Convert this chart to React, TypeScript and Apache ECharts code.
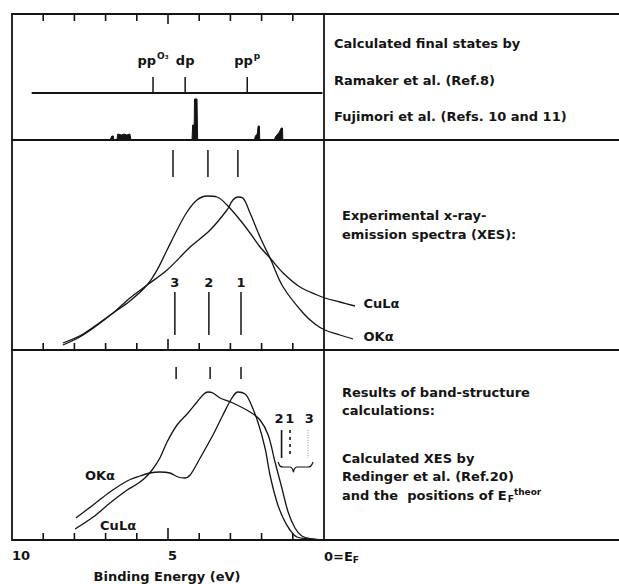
import React, { useEffect, useRef } from 'react';
import * as echarts from 'echarts';

// ---------- data (binding energy in eV, intensities in arbitrary units) ----------
const energyTicks = [1, 2, 3, 4, 5, 6, 7, 8, 9];
const energyTickLabels = [10, 5, 0];

// Panel 1 – calculated final states
const ramakerStates = [5.48, 4.45, 2.46];
const ramakerNames = ['pp{sup|O₃}', 'dp', 'pp{sup|p}'];
const ramakerLevel = 47;
const ramakerMarkTop = 63;
const ramakerLabelLevel = 80;
const ramakerSpan = [9.37, 0.05];

const fujimoriE = [6.86, 6.8, 6.75, 6.74, 6.64, 6.61, 6.48, 6.41, 6.32, 6.22, 6.19, 4.23, 4.21, 4.16, 4.15, 4.07, 4.05, 2.23, 2.2, 2.14, 2.11, 2.07, 2.06, 1.59, 1.56, 1.43, 1.37, 1.33, 1.32];
const fujimoriI = [0, 4, 4, 0, 0, 6, 5, 6, 5, 6, 0, 0, 15, 15, 41, 41, 0, 0, 4, 6, 14, 14, 0, 0, 3, 8, 12, 12, 0];

// Panel 2 – experimental XES
const expCuE = [8.37, 7.72, 6.76, 6.22, 5.67, 5.35, 5.03, 4.71, 4.39, 4.07, 3.75, 3.43, 3.11, 2.69, 2.37, 2.05, 1.73, 1.31, 0.77, 0.22, -0.03, -0.51, -0.99];
const expCuI = [7, 16, 37, 49, 65, 80, 100, 120, 138, 150, 154, 153, 145, 130, 117, 103, 92, 77, 63, 55, 52, 48, 44];
const expOE = [8.37, 7.72, 6.76, 6.22, 5.67, 5.03, 4.29, 3.65, 3.11, 2.92, 2.76, 2.6, 2.37, 2.05, 1.73, 1.31, 0.67, 0.29, -0.03, -0.51, -0.93];
const expOI = [5, 15, 37, 52, 65, 80, 103, 120, 140, 150, 153, 152, 137, 113, 92, 63, 37, 26, 20, 15, 11];
const expTopMarks = [4.84, 3.72, 2.76];
const expLowMarks = [4.78, 3.69, 2.66];
const expLowNames = ['3', '2', '1'];

// Panel 3 – band-structure calculations
const calcOE = [7.95, 7.4, 6.86, 6.31, 5.9, 5.58, 5.26, 4.94, 4.68, 4.46, 4.29, 3.97, 3.56, 3.24, 2.95, 2.76, 2.53, 2.37, 2.12, 1.89, 1.73, 1.51, 1.31, 1.09, 0.87, 0.45, 0.13];
const calcOI = [22, 35, 48, 59, 64, 67, 68, 67, 63, 62, 65, 82, 105, 125, 142, 148, 146, 138, 118, 92, 65, 38, 22, 10, 3, 1, 0];
const calcCuE = [7.98, 7.4, 6.86, 6.31, 5.99, 5.74, 5.51, 5.26, 5.03, 4.71, 4.36, 4.07, 3.85, 3.72, 3.56, 3.33, 2.92, 2.37, 2.05, 1.79, 1.57, 1.35, 1.15, 0.93, 0.71, 0.38, 0.06];
const calcCuI = [11, 23, 37, 50, 56, 62, 70, 82, 98, 115, 127, 138, 146, 148, 147, 142, 137, 128, 120, 105, 78, 52, 28, 12, 4, 1, 0];
const calcTopMarks = [4.74, 3.65, 2.66];
const efTheor = [1.36, 1.09, 0.51];
const efTheorLabelE = [1.44, 1.1, 0.47];
const efTheorNames = ['2', '1', '3'];
const braceE = [1.47, 1.41, 1.31, 1.09, 1.01, 0.98, 0.95, 0.87, 0.51, 0.42, 0.35];
const braceI = [78, 74, 73, 73, 71, 68, 71, 73, 73, 74, 78];

// ---------- helpers ----------
const ink = '#141414';
const font = "'DejaVu Sans', 'Liberation Sans', sans-serif";
const zip = (a: number[], b: number[]) => a.map((v, i) => [v, b[i]]);

const PX_PER_EV = 31.2;
const E_MAX = 10;
const E_MIN = -9.5; // axis continues under the text column, to the page edge
const E_STEP = 0.5;
const L = 12;
const GRID_W = (E_MAX - E_MIN) * PX_PER_EV;
const panelH = [126, 210, 190];
const panelTop = [14, 140, 350];

function vSegments(xAxisIndex: number, yAxisIndex: number, data: number[][], styles?: any[]) {
  return {
    type: 'custom', xAxisIndex, yAxisIndex, silent: true,
    data,
    encode: { x: 0, y: [1, 2] },
    renderItem: (params: any, api: any) => {
      const p0 = api.coord([api.value(0), api.value(1)]);
      const p1 = api.coord([api.value(0), api.value(2)]);
      const st = styles ? styles[params.dataIndex] : {};
      return {
        type: 'line',
        shape: { x1: p0[0], y1: p0[1], x2: p1[0], y2: p1[1] },
        style: { stroke: ink, lineWidth: 1.5, ...st },
      };
    },
  };
}

function tickSeries(xAxisIndex: number, yAxisIndex: number, atTop: boolean, vmax: number, longLen: number) {
  return {
    type: 'custom', xAxisIndex, yAxisIndex, silent: true,
    data: energyTicks.map((e) => [e, atTop ? vmax : 0]),
    encode: { x: 0, y: 1 },
    renderItem: (params: any, api: any) => {
      const e = api.value(0);
      const p = api.coord([e, api.value(1)]);
      const len = e === 5 ? longLen : 7;
      const y2 = atTop ? p[1] + len : p[1] - len;
      return {
        type: 'line',
        shape: { x1: p[0], y1: p[1], x2: p[0], y2 },
        style: { stroke: ink, lineWidth: 1.6 },
      };
    },
  };
}

const labelRich = {
  b: { fontFamily: font, fontWeight: 'bold', fontSize: 13, color: ink, lineHeight: 18, textBorderWidth: 0 },
  sup: { fontFamily: font, fontWeight: 'bold', fontSize: 9, color: ink, verticalAlign: 'top', lineHeight: 18, padding: [0, 0, 6, 1], textBorderWidth: 0 },
};

function labels(xAxisIndex: number, yAxisIndex: number, data: any[], position: string = 'inside') {
  return {
    type: 'scatter', xAxisIndex, yAxisIndex, silent: true,
    symbolSize: 1, itemStyle: { color: 'rgba(0,0,0,0)', opacity: 1 },
    data,
    label: {
      show: true, position, distance: 0, color: ink, opacity: 1,
      textBorderWidth: 0, textShadowBlur: 0,
      formatter: (p: any) => {
        const t = String(p.data[2]);
        return t.includes('{') ? t.replace(/^([^{]+)/, '{b|$1}') : '{b|' + t + '}';
      },
      rich: labelRich,
    },
  };
}

function curve(xAxisIndex: number, yAxisIndex: number, data: number[][]) {
  return {
    type: 'line', xAxisIndex, yAxisIndex, data, silent: true,
    showSymbol: false, symbol: 'none', smooth: 0.35,
    lineStyle: { color: ink, width: 1.3 },
  };
}

function textEl(x: number, y: number, text: string, rich?: any, align: string = 'left') {
  return {
    type: 'text', x, y, silent: true,
    style: {
      text, fill: ink, fontFamily: font, fontWeight: 'bold', fontSize: 13,
      verticalAlign: 'middle', align, rich,
    },
  };
}

export default function App() {
  const ref = useRef<HTMLDivElement>(null);
  useEffect(() => {
    if (!ref.current) return;
    const chart = echarts.init(ref.current, undefined, { renderer: 'svg' });

    const grids: any[] = panelTop.map((t, i) => ({
      left: L, top: t, width: GRID_W, height: panelH[i],
      show: true, borderColor: ink, borderWidth: 1.8, containLabel: false,
      outerBoundsMode: 'none',
    }));

    const xAxes: any[] = [0, 1, 2].map((g) => ({
      type: 'value', gridIndex: g, position: g === 0 ? 'top' : 'bottom',
      min: E_MIN, max: E_MAX, inverse: true, interval: E_STEP,
      axisLine: { show: false }, splitLine: { show: false }, axisTick: { show: false },
      axisLabel: g === 2
        ? {
            show: true, margin: 9, color: ink, fontFamily: font, fontWeight: 'bold', fontSize: 13,
            align: 'left', showMinLabel: false, showMaxLabel: true, hideOverlap: false,
            formatter: (v: number) => (energyTickLabels.includes(v) ? (v === 0 ? '0=E{sub|F}' : String(v)) : ''),
            rich: {
              sub: { fontFamily: font, fontWeight: 'bold', fontSize: 9, color: ink, verticalAlign: 'bottom', padding: [6, 0, 0, 0] },
            },
          }
        : { show: false },
    }));
    const yAxes: any[] = [0, 1, 2].map((g) => ({ type: 'value', gridIndex: g, show: false, min: 0, max: panelH[g] }));

    const series: any[] = [
      // frame: ticks and the E_F divider
      tickSeries(0, 0, true, panelH[0], 10),
      tickSeries(1, 1, false, panelH[1], 11),
      tickSeries(2, 2, false, panelH[2], 12),
      vSegments(0, 0, [[0, 0, panelH[0]]], [{ lineWidth: 1.8 }]),
      vSegments(1, 1, [[0, 0, panelH[1]]], [{ lineWidth: 1.8 }]),
      vSegments(2, 2, [[0, 0, panelH[2]]], [{ lineWidth: 1.8 }]),

      // Panel 1
      {
        type: 'line', xAxisIndex: 0, yAxisIndex: 0, data: zip(fujimoriE, fujimoriI), silent: true,
        showSymbol: false, symbol: 'none', smooth: false,
        lineStyle: { color: ink, width: 1 }, areaStyle: { color: ink, opacity: 1 },
      },
      {
        type: 'line', xAxisIndex: 0, yAxisIndex: 0, silent: true, showSymbol: false, symbol: 'none',
        data: ramakerSpan.map((e) => [e, ramakerLevel]), lineStyle: { color: ink, width: 1.8 },
      },
      vSegments(0, 0, ramakerStates.map((e) => [e, ramakerLevel, ramakerMarkTop])),
      labels(0, 0, ramakerStates.map((e, i) => [e, ramakerLabelLevel, ramakerNames[i]])),

      // Panel 2
      curve(1, 1, zip(expCuE, expCuI)),
      curve(1, 1, zip(expOE, expOI)),
      vSegments(1, 1, expTopMarks.map((e) => [e, 200, 173])),
      vSegments(1, 1, expLowMarks.map((e) => [e, 58, 15])),
      labels(1, 1, expLowMarks.map((e, i) => [e, 68, expLowNames[i]])),
      labels(1, 1, [[-1.25, 47, 'CuLα'], [-1.25, 14, 'OKα']], 'right'),

      // Panel 3
      curve(2, 2, zip(calcOE, calcOI)),
      curve(2, 2, zip(calcCuE, calcCuI)),
      vSegments(2, 2, calcTopMarks.map((e) => [e, 173, 161])),
      vSegments(2, 2, efTheor.map((e) => [e, 110, 82]), [
        { lineWidth: 1.6 },
        { lineWidth: 1.6, lineDash: [3, 4] },
        { lineWidth: 0.8, lineDash: [1, 1.5], stroke: '#777' },
      ]),
      labels(2, 2, efTheorLabelE.map((e, i) => [e, 122, efTheorNames[i]])),
      {
        type: 'line', xAxisIndex: 2, yAxisIndex: 2, data: zip(braceE, braceI), silent: true,
        showSymbol: false, symbol: 'none', smooth: 0.3, lineStyle: { color: ink, width: 1.2 },
      },
      labels(2, 2, [[7.18, 65, 'OKα'], [6.6, 15, 'CuLα']]),
    ];

    const theorRich = {
      sub: { fontFamily: font, fontWeight: 'bold', fontSize: 9, fill: ink, verticalAlign: 'bottom', padding: [7, 0, 0, 1] },
      sup: { fontFamily: font, fontWeight: 'bold', fontSize: 9, fill: ink, verticalAlign: 'top', padding: [0, 0, 7, 0] },
    };

    const graphic = [
      textEl(334, 43, 'Calculated final states by'),
      textEl(334, 80, 'Ramaker et al. (Ref.8)'),
      textEl(334, 116, 'Fujimori et al. (Refs. 10 and 11)'),
      textEl(342, 215, 'Experimental x-ray-'),
      textEl(342, 234, 'emission spectra (XES):'),
      textEl(342, 392, 'Results of band-structure'),
      textEl(342, 410, 'calculations:'),
      textEl(342, 458, 'Calculated XES by'),
      textEl(342, 476, 'Redinger et al. (Ref.20)'),
      textEl(342, 495, 'and the  positions of E{sub|F}{sup|theor}', theorRich),
      textEl(167, 576, 'Binding Energy (eV)', undefined, 'center'),
    ];

    chart.setOption({
      animation: false,
      backgroundColor: '#ffffff',
      grid: grids,
      xAxis: xAxes,
      yAxis: yAxes,
      series,
      graphic,
    });
    return () => chart.dispose();
  }, []);

  return (
    <div
      ref={ref}
      style={{ position: 'absolute', left: 0, top: 0, width: 619, height: 584, background: '#fff' }}
    />
  );
}
